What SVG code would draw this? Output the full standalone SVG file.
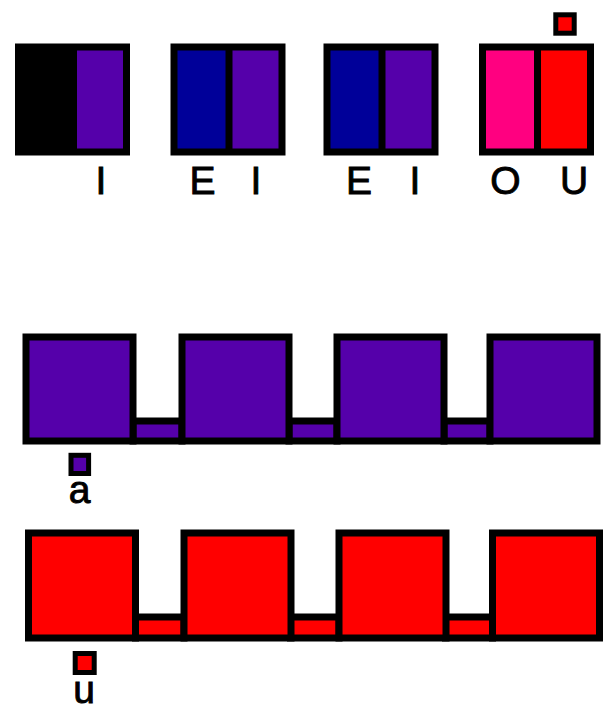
<svg xmlns="http://www.w3.org/2000/svg" width="616" height="728" viewBox="0 0 616 728">
<style>
.frame{fill:#000}
.pu{fill:#5500aa}
.bl{fill:#000099}
.pk{fill:#ff0080}
.rd{fill:#ff0000}
.cell{stroke:#000;stroke-width:7}
.sq{stroke:#000;stroke-width:5}
.lbl{font-family:"Liberation Sans",Arial,sans-serif;font-size:39px;fill:#000;stroke:#000;stroke-width:0.9;text-anchor:middle}
</style>
<rect width="616" height="728" fill="#fff"/>
<g id="pair1">
<rect class="frame" x="15" y="43.5" width="115" height="112"/>
<rect class="pu" x="77" y="50.5" width="46" height="98"/>
<text class="lbl" x="101" y="194">I</text>
</g>
<g id="pair2">
<rect class="frame" x="170.5" y="43.5" width="115" height="112"/>
<rect class="bl" x="177.5" y="50.5" width="48" height="98"/>
<rect class="pu" x="232.5" y="50.5" width="46" height="98"/>
<text class="lbl" x="202.5" y="194">E</text>
<text class="lbl" x="256" y="194">I</text>
</g>
<g id="pair3">
<rect class="frame" x="323.5" y="43.5" width="115" height="112"/>
<rect class="bl" x="330.5" y="50.5" width="48" height="98"/>
<rect class="pu" x="385.5" y="50.5" width="46" height="98"/>
<text class="lbl" x="359" y="194">E</text>
<text class="lbl" x="415" y="194">I</text>
</g>
<g id="pair4">
<rect class="frame" x="479" y="43.5" width="115" height="112"/>
<rect class="pk" x="486" y="50.5" width="48" height="98"/>
<rect class="rd" x="541" y="50.5" width="46" height="98"/>
<rect class="rd sq" x="555.8" y="14.8" width="18.4" height="18.4"/>
<text class="lbl" x="505.5" y="194">O</text>
<text class="lbl" x="574" y="194">U</text>
</g>
<g id="row-a">
<rect class="pu cell" x="133" y="421" width="49" height="20"/>
<rect class="pu cell" x="289" y="421" width="48" height="20"/>
<rect class="pu cell" x="444" y="421" width="46" height="20"/>
<rect class="pu cell" x="26" y="337" width="107" height="104"/>
<rect class="pu cell" x="182" y="337" width="107" height="104"/>
<rect class="pu cell" x="337" y="337" width="107" height="104"/>
<rect class="pu cell" x="490" y="337" width="107" height="104"/>
<rect class="pu sq" x="71" y="455.3" width="17.6" height="18.2"/>
<text class="lbl" x="79.7" y="503">a</text>
</g>
<g id="row-u">
<rect class="rd cell" x="135.5" y="617" width="48.5" height="21"/>
<rect class="rd cell" x="290.5" y="617" width="48.5" height="21"/>
<rect class="rd cell" x="445.5" y="617" width="47" height="21"/>
<rect class="rd cell" x="28.5" y="533" width="107" height="105"/>
<rect class="rd cell" x="184" y="533" width="107" height="105"/>
<rect class="rd cell" x="339" y="533" width="107" height="105"/>
<rect class="rd cell" x="492.5" y="533" width="107" height="105"/>
<rect class="rd sq" x="75.2" y="653.5" width="19" height="19"/>
<text class="lbl" x="84" y="703">u</text>
</g>
</svg>
